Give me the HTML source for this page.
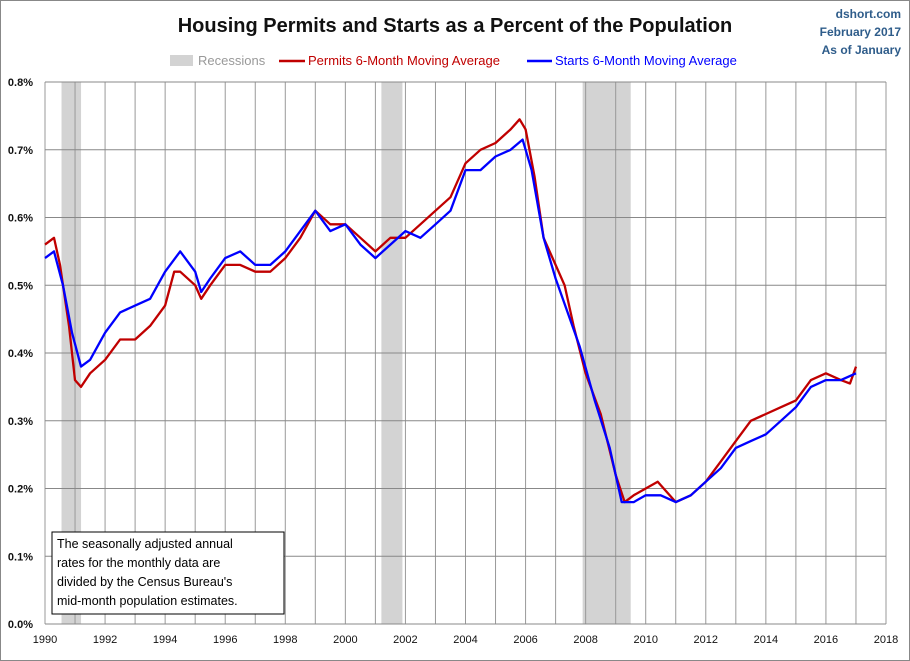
<!DOCTYPE html>
<html><head><meta charset="utf-8"><style>
html,body{margin:0;padding:0;background:#fff}
svg{display:block;font-family:"Liberation Sans",sans-serif}
</style></head><body>
<svg id="chart" width="910" height="661">
<rect x="0.5" y="0.5" width="909" height="660" fill="#fff" stroke="#888"/>
<text x="455" y="32" text-anchor="middle" font-size="20" font-weight="bold" fill="#111">Housing Permits and Starts as a Percent of the Population</text>
<g font-size="12" font-weight="bold" fill="#2e5c8a" text-anchor="end">
<text x="901" y="18">dshort.com</text><text x="901" y="36">February 2017</text><text x="901" y="54">As of January</text></g>
<g>
<rect x="170" y="55" width="23" height="11" fill="#d3d3d3"/>
<text x="198" y="65" font-size="13" fill="#999">Recessions</text>
<line x1="279" y1="61" x2="305" y2="61" stroke="#c00000" stroke-width="2.5"/>
<text x="308" y="65" font-size="13" fill="#c00000">Permits 6-Month Moving Average</text>
<line x1="527" y1="61" x2="552" y2="61" stroke="#0000ff" stroke-width="2.5"/>
<text x="555" y="65" font-size="13" fill="#0000ff">Starts 6-Month Moving Average</text>
</g>
<g id="plot"></g>
<g>
<rect x="52" y="532" width="232" height="82" fill="#fff" stroke="#000"/>
<g font-size="12.5" fill="#000">
<text x="57" y="548">The seasonally adjusted annual</text>
<text x="57" y="567">rates for the monthly  data are</text>
<text x="57" y="586">divided by the Census Bureau's</text>
<text x="57" y="605">mid-month  population estimates.</text></g>
</g>
</svg>
<script>
const yTicks=[0,0.1,0.2,0.3,0.4,0.5,0.6,0.7,0.8];
const xTicks=[1990,1992,1994,1996,1998,2000,2002,2004,2006,2008,2010,2012,2014,2016,2018];
const recessionStart=[1990.55,2001.2,2007.9];
const recessionEnd=[1991.2,2001.9,2009.5];
const permitYears=[1990.0,1990.3,1990.5,1990.8,1991.0,1991.2,1991.5,1992.0,1992.5,1993.0,1993.5,1994.0,1994.3,1994.5,1995.0,1995.2,1995.5,1996.0,1996.5,1997.0,1997.5,1998.0,1998.5,1999.0,1999.5,2000.0,2000.5,2001.0,2001.5,2002.0,2002.5,2003.0,2003.5,2004.0,2004.5,2005.0,2005.5,2005.8,2006.0,2006.3,2006.6,2007.0,2007.3,2007.6,2008.0,2008.5,2009.0,2009.3,2009.6,2010.0,2010.4,2010.8,2011.0,2011.5,2012.0,2012.5,2013.0,2013.5,2014.0,2014.5,2015.0,2015.5,2016.0,2016.5,2016.8,2017.0];
const permitValues=[0.56,0.57,0.53,0.44,0.36,0.35,0.37,0.39,0.42,0.42,0.44,0.47,0.52,0.52,0.50,0.48,0.50,0.53,0.53,0.52,0.52,0.54,0.57,0.61,0.59,0.59,0.57,0.55,0.57,0.57,0.59,0.61,0.63,0.68,0.70,0.71,0.73,0.745,0.73,0.66,0.57,0.53,0.50,0.44,0.37,0.31,0.22,0.18,0.19,0.20,0.21,0.19,0.18,0.19,0.21,0.24,0.27,0.30,0.31,0.32,0.33,0.36,0.37,0.36,0.355,0.38];
const startYears=[1990.0,1990.3,1990.6,1990.9,1991.2,1991.5,1992.0,1992.5,1993.0,1993.5,1994.0,1994.5,1995.0,1995.2,1995.5,1996.0,1996.5,1997.0,1997.5,1998.0,1998.5,1999.0,1999.5,2000.0,2000.5,2001.0,2001.5,2002.0,2002.5,2003.0,2003.5,2004.0,2004.5,2005.0,2005.5,2005.9,2006.2,2006.6,2007.0,2007.4,2007.8,2008.3,2008.8,2009.2,2009.6,2010.0,2010.5,2011.0,2011.5,2012.0,2012.5,2013.0,2013.5,2014.0,2014.5,2015.0,2015.5,2016.0,2016.5,2017.0];
const startValues=[0.54,0.55,0.50,0.43,0.38,0.39,0.43,0.46,0.47,0.48,0.52,0.55,0.52,0.49,0.51,0.54,0.55,0.53,0.53,0.55,0.58,0.61,0.58,0.59,0.56,0.54,0.56,0.58,0.57,0.59,0.61,0.67,0.67,0.69,0.70,0.715,0.67,0.57,0.51,0.46,0.41,0.33,0.26,0.18,0.18,0.19,0.19,0.18,0.19,0.21,0.23,0.26,0.27,0.28,0.30,0.32,0.35,0.36,0.36,0.37];

const L=45,R=886,T=82,B=624;
const xs=y=>L+(y-1990)/(2018-1990)*(R-L);
const ys=v=>B-v/0.8*(B-T);
const NS='http://www.w3.org/2000/svg';
const plot=document.getElementById('plot');
function mk(tag,attrs,parent){const e=document.createElementNS(NS,tag);for(const k in attrs)e.setAttribute(k,attrs[k]);(parent||plot).appendChild(e);return e;}

for(let i=0;i<recessionStart.length;i++){
  const r=mk('rect',{x:xs(recessionStart[i]),y:T,width:xs(recessionEnd[i])-xs(recessionStart[i]),height:B-T,fill:'#d3d3d3'});
  
  
}
for(let yr=1990;yr<=2018;yr++){
  const l=mk('line',{x1:xs(yr),x2:xs(yr),y1:T,y2:B,stroke:'#999','stroke-width':1});
  
  
}
yTicks.forEach(v=>{
  const l=mk('line',{x1:L,x2:R,y1:ys(v),y2:ys(v),stroke:'#888','stroke-width':1});
  
  
  const t=mk('text',{x:L-12,y:ys(v)+4,'text-anchor':'end','font-size':11,'font-weight':'bold',fill:'#111'});
  t.textContent=v.toFixed(1)+'%';
  
  
});
xTicks.forEach(yr=>{
  const t=mk('text',{x:xs(yr),y:643,'text-anchor':'middle','font-size':11,fill:'#111'});
  t.textContent=yr;
  
  
});
function line(xa,va,color,name){
  let d='';xa.forEach((x,i)=>{d+=(i?'L':'M')+xs(x).toFixed(1)+','+ys(va[i]).toFixed(1);});
  const p=mk('path',{d:d,fill:'none',stroke:color,'stroke-width':2.3,'stroke-linejoin':'round'});
  
  
}
line(permitYears,permitValues,'#c00000','permits-line');
line(startYears,startValues,'#0000ff','starts-line');
</script>
</body></html>
